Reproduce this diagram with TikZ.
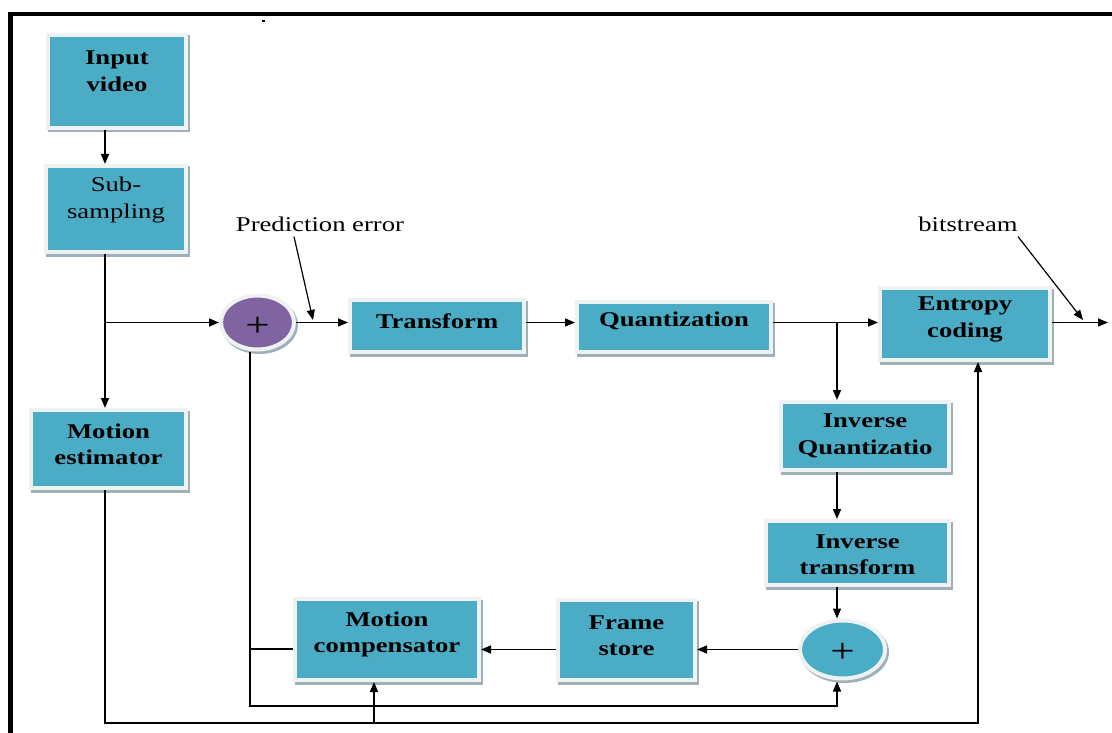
\documentclass[tikz,border=0pt]{standalone}
\usepackage{fontspec}
\setmainfont{Liberation Serif}[FakeStretch=1.27]
\usetikzlibrary{arrows.meta,shapes.geometric}
\definecolor{teal1}{HTML}{4BACC6}
\definecolor{purp}{HTML}{8064A2}
\definecolor{edgec}{HTML}{EEF2F3}
\definecolor{shadowc}{HTML}{9FB0B8}
\begin{document}
\begin{tikzpicture}[x=1pt,y=-1pt,
  box/.style={rectangle, fill=teal1, draw=edgec, line width=4pt, inner sep=0pt,
    preaction={draw=shadowc, line width=4pt, transform canvas={shift={(2pt,-2.5pt)}}}},
  blob/.style={ellipse, draw=edgec, line width=4pt, inner sep=0pt,
    preaction={draw=shadowc, line width=4pt, transform canvas={shift={(2pt,-2.5pt)}}}},
  plus/.style={inner sep=0pt, font=\fontsize{34}{34}\selectfont},
  txt/.style={align=center, inner sep=0pt, font=\fontsize{21}{26.5}\selectfont\bfseries},
  txtr/.style={align=center, inner sep=0pt, font=\fontsize{21}{27}\selectfont},
  lbl/.style={inner sep=0pt, font=\fontsize{21}{26}\selectfont},
  arr/.style={-{Triangle[length=10pt,width=8pt]}, line width=1.5pt},
  ln/.style={line width=1.5pt}]
\useasboundingbox (0,0) rectangle (1112,733);
% frame
\draw[line width=4.5pt, line join=miter] (10.5,733) -- (10.5,14) -- (1112,14);
\fill (261.5,20) rectangle (265,22.5);

% boxes
\node[box, minimum width=138pt, minimum height=93pt] (input) at (117,81.5) {};
\node[txt] (inputT) at (117,71) {Input\\video};
\node[box, minimum width=140pt, minimum height=86pt] (subsamp) at (116,209) {};
\node[txtr] (subsampT) at (116,200) {Sub-\\sampling};
\node[box, minimum width=155pt, minimum height=78pt] (motionest) at (108.5,449) {};
\node[txt] (motionestT) at (108.5,444.5) {Motion\\estimator};
\node[box, minimum width=174pt, minimum height=52pt] (transform) at (437,326) {};
\node[txt] (transformT) at (437,321) {Transform};
\node[box, minimum width=194pt, minimum height=50pt] (quant) at (674,327) {};
\node[txt] (quantT) at (674,321) {Quantization};
\node[box, minimum width=170pt, minimum height=72pt] (entropy) at (965,324) {};
\node[txt] (entropyT) at (965,319.5) {Entropy\\coding};
\node[box, minimum width=168pt, minimum height=68pt] (invquant) at (865,436) {};
\node[txt] (invquantT) at (865,436) {Inverse\\Quantizatio};
\node[box, minimum width=183pt, minimum height=64pt] (invtrans) at (857.5,553) {};
\node[txt] (invtransT) at (857.5,554.5) {Inverse\\transform};
\node[box, minimum width=137pt, minimum height=80pt] (framestore) at (626.5,640) {};
\node[txt] (framestoreT) at (626.5,635.5) {Frame\\store};
\node[box, minimum width=184pt, minimum height=81pt] (motioncomp) at (387,639.5) {};
\node[txt] (motioncompT) at (387,634.5) {Motion\\compensator};

% adders
\node[blob, fill=purp, minimum width=73pt, minimum height=54pt] (add1) at (257.5,322.5) {};
\node[plus] (add1T) at (257.5,327) {+};
\node[blob, fill=teal1, minimum width=85pt, minimum height=58pt] (add2) at (842.5,649.5) {};
\node[plus] (add2T) at (842.5,653) {+};

% labels
\node[lbl] (pe) at (320,224) {Prediction error};
\node[lbl] (bs) at (968,224) {bitstream};

% junctions
\coordinate (j1) at (105,322.5);
\coordinate (j2) at (837,322.5);
\coordinate (j3) at (250,649);
\coordinate (j4) at (250,706);
\coordinate (j5) at (105,723);
\coordinate (j6) at (978,723);
\coordinate (j7) at (374,723);
\coordinate (out) at (1108,322.5);
\coordinate (pet) at (313,320);
\coordinate (bst) at (1083,320);

% connectors
\draw[arr] (input.south -| j1) -- (subsamp.north -| j1);
\draw[arr] (subsamp.south -| j1) -- (motionest.north -| j1);
\draw[arr] (j1) -- (add1.west);
\draw[arr] (add1.east) -- (add1.east -| transform.west);
\draw[arr] (transform.east |- j1) -- (quant.west |- j1);
\draw[arr] (quant.east |- j1) -- (entropy.west |- j1);
\draw[arr] (j2) -- (j2 |- invquant.north);
\draw[arr] (invquant.south -| j2) -- (invtrans.north -| j2);
\draw[arr] (invtrans.south -| j2) -- (add2.north -| j2);
\draw[arr] (add2.west) -- (add2.west -| framestore.east);
\draw[arr] (framestore.west |- add2.west) -- (motioncomp.east |- add2.west);
\draw[ln] (motioncomp.west |- j3) -- (j3);
\draw[arr] (add1.south -| j4) -- (j4) -| ([yshift=-1pt]add2.south -| j2);
\draw[arr] (motionest.south -| j5) -- (j5) -- (j6) -- (j6 |- entropy.south);
\draw[arr] (j7) -- (j7 |- motioncomp.south);
\draw[arr] (entropy.east |- j1) -- (out);
\draw[arr, line width=1.2pt] ([xshift=-26pt,yshift=-5pt]pe.south) -- (pet);
\draw[arr, line width=1.2pt] ([xshift=50pt,yshift=-5pt]bs.south) -- (bst);
\end{tikzpicture}
\end{document}
